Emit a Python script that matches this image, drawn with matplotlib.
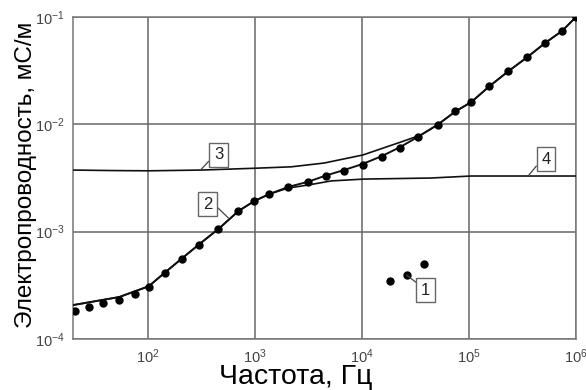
import numpy as np
import matplotlib
matplotlib.use('Agg')
import matplotlib.pyplot as plt
from matplotlib.ticker import LogLocator, LogFormatterMathtext, NullLocator

# измеренные точки (кривая 2)
freq_pts = [21, 28, 38, 54, 76, 102, 144, 207, 298, 457, 703, 989, 1365, 2050,
            3150, 4620, 6810, 10200, 15300, 22500, 33200, 50900, 74800, 105000,
            155000, 233000, 350000, 515000, 741000, 1000000]
cond_pts = [1.82e-4, 1.98e-4, 2.16e-4, 2.31e-4, 2.62e-4, 3.04e-4, 4.11e-4, 5.56e-4,
            7.50e-4, 1.057e-3, 1.556e-3, 1.93e-3, 2.24e-3, 2.61e-3, 2.90e-3, 3.30e-3,
            3.67e-3, 4.18e-3, 4.95e-3, 6.01e-3, 7.62e-3, 9.84e-3, 1.33e-2, 1.61e-2,
            2.28e-2, 3.14e-2, 4.24e-2, 5.73e-2, 7.41e-2, 0.1]

# кривая 2 (расчёт)
freq_2 = [20, 54, 102, 144, 207, 298, 457, 703, 989, 1365, 2050, 3150, 4620, 6810,
          10200, 15300, 22500, 33200, 50900, 74800, 105000, 155000, 233000, 350000,
          515000, 741000, 1000000]
cond_2 = [2.07e-4, 2.46e-4, 3.10e-4, 4.15e-4, 5.60e-4, 7.55e-4, 1.06e-3, 1.556e-3,
          1.93e-3, 2.24e-3, 2.61e-3, 2.92e-3, 3.34e-3, 3.75e-3, 4.28e-3, 5.05e-3,
          6.10e-3, 7.62e-3, 9.9e-3, 1.32e-2, 1.61e-2, 2.26e-2, 3.12e-2, 4.22e-2,
          5.73e-2, 7.41e-2, 0.1]

# кривая 3
freq_3 = [20, 46, 102, 318, 1010, 2190, 4440, 10200, 23100, 35400, 50900, 74800,
          105000, 155000, 233000, 350000, 515000, 741000, 1000000]
cond_3 = [3.75e-3, 3.71e-3, 3.69e-3, 3.75e-3, 3.90e-3, 4.02e-3, 4.36e-3, 5.18e-3,
          6.84e-3, 7.94e-3, 9.9e-3, 1.32e-2, 1.61e-2, 2.26e-2, 3.12e-2, 4.22e-2,
          5.73e-2, 7.41e-2, 0.1]

# кривая 4
freq_4 = [20, 54, 102, 144, 207, 298, 457, 703, 989, 1365, 2050, 3150, 5150, 10450,
          43900, 105000, 1000000]
cond_4 = [2.07e-4, 2.46e-4, 3.10e-4, 4.15e-4, 5.60e-4, 7.55e-4, 1.06e-3, 1.556e-3,
          1.93e-3, 2.24e-3, 2.55e-3, 2.72e-3, 2.97e-3, 3.09e-3, 3.16e-3, 3.30e-3,
          3.30e-3]

# точки 1
freq_1 = [18200, 26200, 37800]
cond_1 = [3.47e-4, 3.94e-4, 4.99e-4]

# подписи: (текст, точка на кривой, положение рамки, точка крепления выноски)
labels = [('1', (26200, 3.94e-4), (39400, 2.86e-4), (0, 0.75)),
          ('2', (566, 1.34e-3), (362, 1.81e-3), (1, 0.6)),
          ('3', (311, 3.75e-3), (457, 5.18e-3), (0, 0.45)),
          ('4', (357000, 3.30e-3), (526000, 4.75e-3), (0, 0.45))]


def main():
    plt.rcParams['font.family'] = ['Liberation Sans', 'DejaVu Sans']
    plt.rcParams['mathtext.fontset'] = 'custom'
    plt.rcParams['mathtext.rm'] = 'Liberation Sans'
    plt.rcParams['mathtext.default'] = 'regular'

    fig = plt.figure(figsize=(5.86, 3.90), dpi=100)
    ax = fig.add_axes([73 / 586, 1 - 339 / 390, 503 / 586, 322 / 390])

    ax.set_xscale('log')
    ax.set_yscale('log')
    ax.set_xlim(20, 1e6)
    ax.set_ylim(1e-4, 1e-1)

    ax.plot(freq_3, cond_3, color='#111111', lw=1.2, zorder=3)
    ax.plot(freq_4, cond_4, color='#111111', lw=1.2, zorder=3)
    ax.plot(freq_2, cond_2, color='#111111', lw=1.4, zorder=3)
    ax.plot(freq_pts, cond_pts, 'o', color='black', ms=5, zorder=4)
    ax.plot(freq_1, cond_1, 'o', color='black', ms=5, zorder=4)

    for txt, xy, xytext, rel in labels:
        ax.annotate(txt, xy=xy, xytext=xytext, ha='center', va='center',
                    fontsize=12, color='#222222',
                    bbox=dict(boxstyle='square,pad=0.28', fc='white', ec='#666666', lw=1),
                    arrowprops=dict(arrowstyle='-', color='#444444', lw=0.9,
                                    relpos=rel, shrinkA=0, shrinkB=0),
                    zorder=5)

    ax.xaxis.set_major_locator(LogLocator(base=10, numticks=10))
    ax.yaxis.set_major_locator(LogLocator(base=10, numticks=10))
    ax.xaxis.set_minor_locator(NullLocator())
    ax.yaxis.set_minor_locator(NullLocator())
    ax.xaxis.set_major_formatter(LogFormatterMathtext())
    ax.yaxis.set_major_formatter(LogFormatterMathtext())
    ax.tick_params(length=0, labelsize=10.5, colors='#444444', pad=6)
    ax.grid(True, color='#666666', lw=1.1)
    for s in ax.spines.values():
        s.set_color('#777777')
        s.set_linewidth(1.1)

    ax.set_xlabel('Частота, Гц', fontsize=20.5)
    ax.xaxis.set_label_coords(0.443, -0.078)
    ax.xaxis.label.set_va('top')
    ax.set_ylabel('Электропроводность, мС/м', fontsize=17.5)
    ax.yaxis.set_label_coords(-0.071, 0.51)

    fig.savefig('out.png', dpi=100)


if __name__ == '__main__':
    main()
